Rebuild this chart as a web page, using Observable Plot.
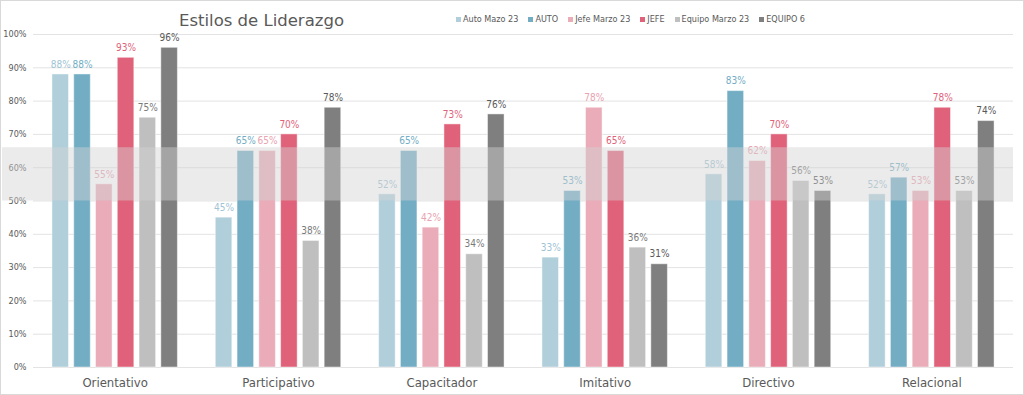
<!DOCTYPE html>
<html>
<head>
<meta charset="utf-8">
<script src="https://cdn.jsdelivr.net/npm/d3@7"></script>
<script src="https://cdn.jsdelivr.net/npm/@observablehq/plot@0.6"></script>
<style>
  body { margin: 0; background: #fff; }
  #chart { position: relative; width: 1024px; height: 395px; box-sizing: border-box; border: 1px solid #d9d9d9; background: #fff; overflow: hidden; font-family: "DejaVu Sans", Verdana, sans-serif; }
  #header { position: relative; height: 24px; z-index: 5; }
  #title { position: absolute; left: 178px; top: 10px; font-size: 16.5px; line-height: 20px; color: #595959; white-space: nowrap; }
  #legend { position: absolute; left: 455px; top: 12px; display: flex; gap: 10px; font-family: "DejaVu Sans Condensed", "DejaVu Sans", sans-serif; font-size: 9px; line-height: 12px; color: #595959; white-space: nowrap; }
  #legend .item { display: flex; align-items: center; gap: 2px; }
  #legend .sw { width: 5px; height: 5px; display: inline-block; }
  #plots { position: absolute; left: 0; top: 24px; width: 1022px; height: 369px; }
  #plots svg { position: absolute; left: 0; top: 0; display: block; }
</style>
</head>
<body>
<div id="chart">
  <div id="header">
    <div id="title">Estilos de Liderazgo</div>
    <div id="legend"></div>
  </div>
  <div id="plots"></div>
</div>
<script>
const categories = ["Orientativo", "Participativo", "Capacitador", "Imitativo", "Directivo", "Relacional"];
const seriesNames = ["Auto Mazo 23", "AUTO", "Jefe Marzo 23", "JEFE", "Equipo Marzo 23", "EQUIPO 6"];

const autoMazo23    = [88, 45, 52, 33, 58, 52];
const auto          = [88, 65, 65, 53, 83, 57];
const jefeMarzo23   = [55, 65, 42, 78, 62, 53];
const jefe          = [93, 70, 73, 65, 70, 78];
const equipoMarzo23 = [75, 38, 34, 36, 56, 53];
const equipo6       = [96, 78, 76, 31, 53, 74];

const barColors   = ["#b1cfdb", "#72adc4", "#e9acb8", "#e0627a", "#bfbfbf", "#7f7f7f"];
const labelColors = ["#9fc4d4", "#72adc4", "#e9a3b1", "#e0627a", "#7a7a7a", "#595959"];

const yTickValues = [0, 10, 20, 30, 40, 50, 60, 70, 80, 90, 100];
const referenceBand = [{from: 50, to: 66}];

const seriesValues = [autoMazo23, auto, jefeMarzo23, jefe, equipoMarzo23, equipo6];
const rows = [];
categories.forEach((cat, ci) => {
  seriesNames.forEach((s, si) => rows.push({cat, series: s, value: seriesValues[si][ci]}));
});

// legend
const legend = document.getElementById("legend");
seriesNames.forEach((s, i) => {
  const item = document.createElement("span");
  item.className = "item";
  const sw = document.createElement("span");
  sw.className = "sw";
  sw.style.background = barColors[i];
  const t = document.createElement("span");
  t.textContent = s;
  item.appendChild(sw); item.appendChild(t);
  legend.appendChild(item);
});

const FONT = "DejaVu Sans Condensed, DejaVu Sans, sans-serif";
const base = {
  width: 1022,
  height: 369,
  marginTop: 9,
  marginBottom: 27,
  marginLeft: 32,
  marginRight: 10,
  style: {fontFamily: FONT, background: "transparent", overflow: "visible"},
  y: {domain: [0, 100], axis: null}
};

// layer 1: gridlines and y axis
const gridLayer = Plot.plot({
  ...base,
  marks: [
    Plot.ruleY(yTickValues, {y: d => d, stroke: "#e3e3e3", strokeWidth: 1}),
    Plot.axisY(yTickValues, {anchor: "left", tickSize: 0, tickPadding: 7, tickFormat: d => d + "%", fontSize: 9, color: "#595959", label: null})
  ]
});

// layer 2: grouped bars, labels and category axis
const labelMarks = seriesNames.map((s, i) =>
  Plot.text(rows.filter(d => d.series === s), {
    fx: "cat", x: "series", y: "value",
    text: d => Math.round(d.value) + "%",
    dy: -10, fill: labelColors[i], fontSize: 10, fontFamily: FONT
  })
);
const barLayer = Plot.plot({
  ...base,
  fx: {domain: categories, paddingInner: 0.2, paddingOuter: 0.1, round: false, label: null},
  x: {domain: seriesNames, paddingInner: 0.24, paddingOuter: 0.12, round: false, axis: null},
  color: {domain: seriesNames, range: barColors},
  marks: [
    Plot.axisFx({anchor: "bottom", tickSize: 0, tickPadding: 10, fontSize: 13, color: "#595959", label: null}),
    Plot.barY(rows, {fx: "cat", x: "series", y: "value", fill: "series", stroke: "#ffffff", strokeOpacity: 0.45, strokeWidth: 1}),
    ...labelMarks
  ]
});

// layer 3: translucent reference band on top
const bandLayer = Plot.plot({
  ...base,
  marks: [
    Plot.rect(referenceBand, {y1: "from", y2: "to", fill: "#d2d2d2", fillOpacity: 0.45, insetLeft: -31})
  ]
});

const plots = document.getElementById("plots");
plots.appendChild(gridLayer);
plots.appendChild(barLayer);
plots.appendChild(bandLayer);
</script>
</body>
</html>
